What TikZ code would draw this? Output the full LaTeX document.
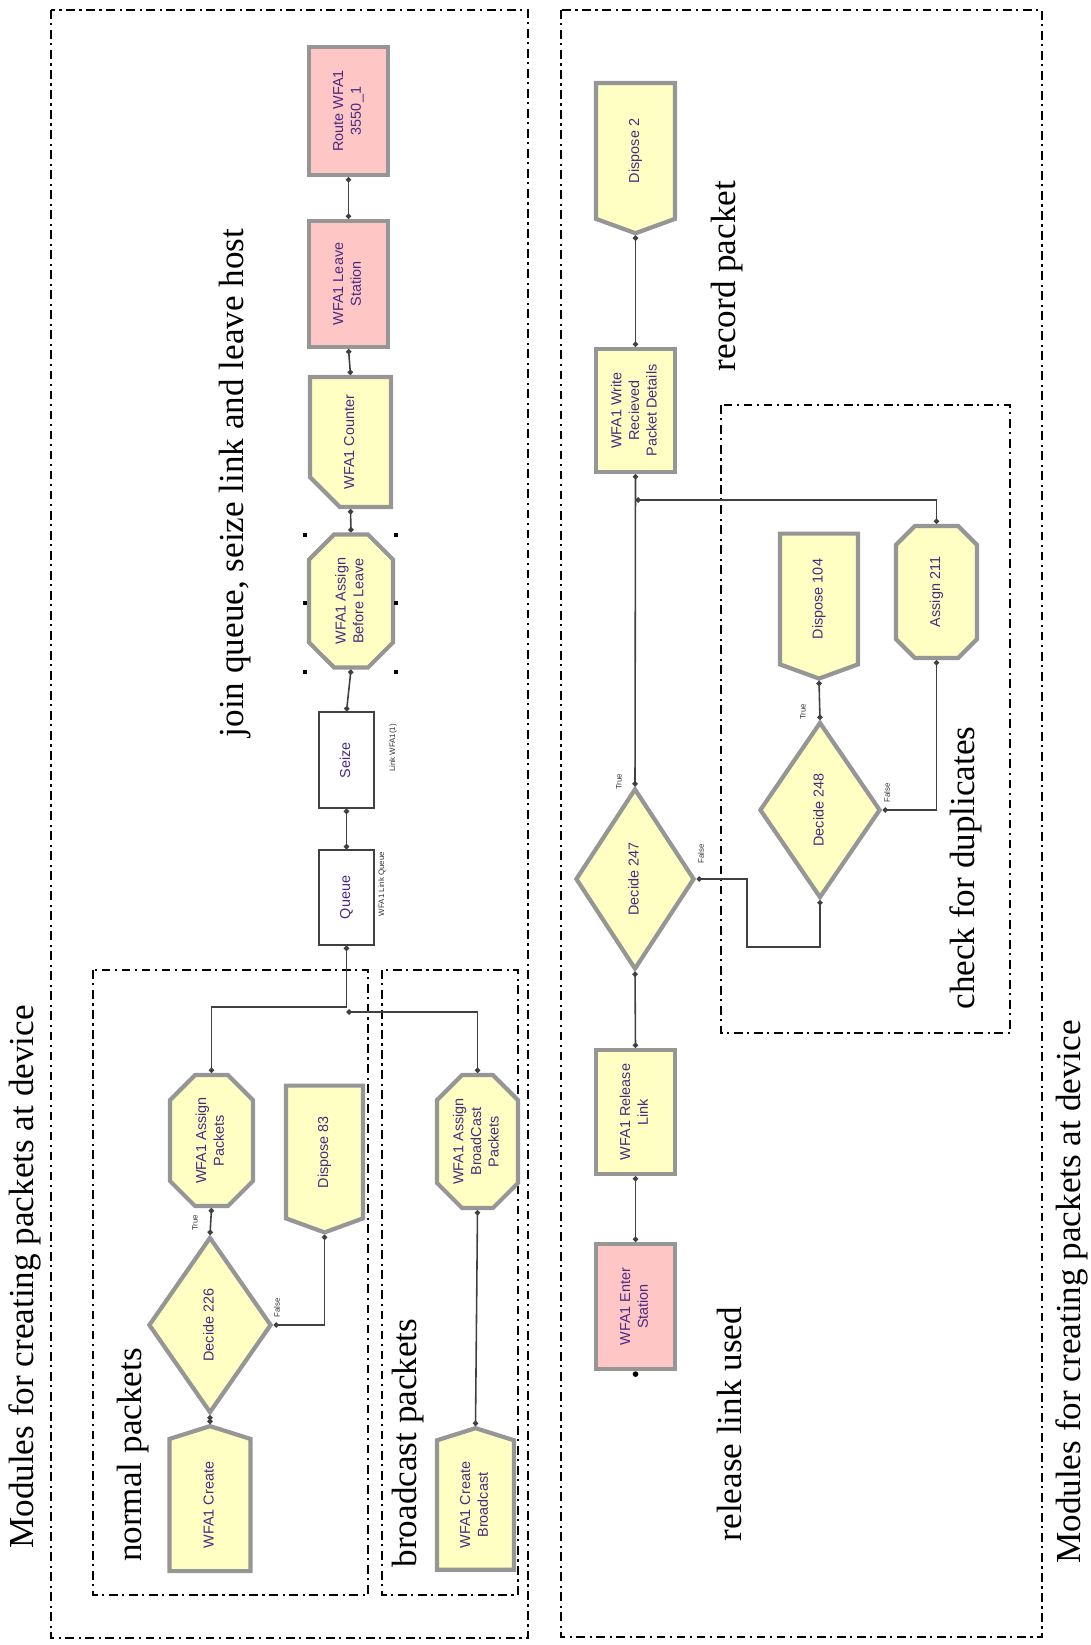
\documentclass[tikz,border=0pt]{standalone}
\usepackage{xcolor}
\usepackage{tikz}
\usepackage{fontspec}
\setmainfont{Liberation Serif}
\newfontfamily\arenafont{Liberation Sans}
\definecolor{arenayellow}{RGB}{255,255,196}
\definecolor{arenapink}{RGB}{255,198,198}
\definecolor{arenatext}{RGB}{72,42,128}
\definecolor{arenarim}{RGB}{150,150,150}
\usetikzlibrary{shapes.geometric,shapes.symbols,shapes.misc,arrows.meta}
\newcommand{\modtext}[1]{\rotatebox{90}{\begin{tabular}{@{}c@{}}#1\end{tabular}}}

\begin{document}
\begin{tikzpicture}[
    x=0.02cm, y=-0.02cm,
    module/.style={draw=arenarim, line width=2.4pt, fill=arenayellow, text=arenatext, inner sep=0pt, align=center, font=\arenafont\fontsize{8.2}{10}\selectfont},
    pinkmod/.style={module, fill=arenapink},
    assignmod/.style={module, chamfered rectangle, chamfered rectangle xsep=0.2cm, chamfered rectangle ysep=0.3cm},
    createmod/.style={module, signal, signal to=north, signal from=nowhere, signal pointer angle=145},
    disposemod/.style={module, signal, signal to=south, signal from=nowhere, signal pointer angle=140},
    recordmod/.style={module, chamfered rectangle, chamfered rectangle corners=south west, chamfered rectangle xsep=0.42cm, chamfered rectangle ysep=0.46cm},
    decidemod/.style={module, diamond},
    blockmod/.style={draw=black!75, line width=0.8pt, fill=white, text=arenatext, inner sep=0pt, font=\arenafont\fontsize{8.2}{10}\selectfont},
    flow/.style={draw=black!75, line width=0.9pt, {Circle[length=3pt]}-{Circle[length=3pt]}},
    group/.style={draw=black, line width=1.3pt, dash pattern=on 5pt off 2.6pt on 1.2pt off 2.6pt},
    note/.style={rotate=90, font=\fontsize{20}{24}\selectfont, inner sep=0pt},
    tag/.style={rotate=90, font=\arenafont\fontsize{4.5}{5}\selectfont, text=black!80, inner sep=0pt}
]
\useasboundingbox (0,0) rectangle (1091,1645);

% Group frames
\draw[group] (51,10) rectangle (528,1638);
\draw[group] (561,10) rectangle (1042,1637);
\draw[group] (93,970) rectangle (368,1595);
\draw[group] (382,970) rectangle (518,1595);
\draw[group] (721,405) rectangle (1010,1033);

% Group labels
\node[note] (titleleft) at (25,1277) {Modules for creating packets at device};
\node[note] (titleright) at (1072,1292) {Modules for creating packets at device};
\node[note] (lbljoin) at (235,483) {join queue, seize link and leave host};
\node[note] (lblnormal) at (133,1455) {normal packets};
\node[note] (lblbcast) at (408,1443) {broadcast packets};
\node[note] (lblrecord) at (727,276) {record packet};
\node[note] (lbldup) at (966,868) {check for duplicates};
\node[note] (lblrelease) at (729,1424) {release link used};

% Normal packets
\node[createmod, minimum width=1.62cm, minimum height=2.70cm] (create) at (210,1505) {\modtext{WFA1 Create}};
\node[decidemod, minimum width=2.46cm, minimum height=3.52cm] (d226) at (210,1325) {\modtext{Decide 226}};
\node[assignmod, minimum width=1.66cm, minimum height=2.62cm] (assignpk) at (211.5,1140.5) {\modtext{WFA1 Assign\\Packets}};
\node[disposemod, minimum width=1.54cm, minimum height=2.72cm] (dispose83) at (324.5,1152) {\modtext{Dispose 83}};

% Broadcast packets
\node[createmod, minimum width=1.54cm, minimum height=2.70cm] (createbc) at (475.5,1505) {\modtext{WFA1 Create\\Broadcast}};
\node[assignmod, minimum width=1.62cm, minimum height=2.66cm] (assignbc) at (477.5,1141.5) {\modtext{WFA1 Assign\\BroadCast\\Packets}};

% Join queue, seize link and leave host
\node[blockmod, minimum width=1.10cm, minimum height=1.90cm] (queue) at (346.5,897.5) {\modtext{Queue}};
\node[blockmod, minimum width=1.10cm, minimum height=1.92cm] (seize) at (346.5,760) {\modtext{Seize}};
\node[assignmod, minimum width=1.68cm, minimum height=2.66cm] (abl) at (351,601) {\modtext{WFA1 Assign\\Before Leave}};
\node[recordmod, minimum width=1.62cm, minimum height=2.60cm] (counter) at (350.5,442) {\modtext{WFA1 Counter}};
\node[pinkmod, minimum width=1.58cm, minimum height=2.52cm] (leave) at (348.5,284) {\modtext{WFA1 Leave\\Station}};
\node[pinkmod, minimum width=1.58cm, minimum height=2.56cm] (route) at (348.5,111) {\modtext{Route WFA1\\3550\_1}};
\node[tag] (queuetag) at (382,884) {WFA1 Link Queue};
\node[tag] (seizetag) at (393,748) {Link WFA1(1)};

% selection handles
\foreach \hx in {305,396}
  \foreach \hy in {535,603,672}
    \fill (\hx,\hy) ++(-2.2,-2.2) rectangle ++(4.4,4.4);

% Release link used
\node[pinkmod, minimum width=1.58cm, minimum height=2.50cm] (enter) at (635.5,1306.5) {\modtext{WFA1 Enter\\Station}};
\node[module, minimum width=1.58cm, minimum height=2.48cm] (release) at (635.5,1112) {\modtext{WFA1 Release\\Link}};
\node[decidemod, minimum width=2.38cm, minimum height=3.62cm] (d247) at (635,879) {\modtext{Decide 247}};

% Check for duplicates
\node[decidemod, minimum width=2.42cm, minimum height=3.52cm] (d248) at (820,810) {\modtext{Decide 248}};
\node[disposemod, minimum width=1.56cm, minimum height=2.68cm] (dispose104) at (819,599) {\modtext{Dispose 104}};
\node[assignmod, minimum width=1.62cm, minimum height=2.64cm] (assign211) at (936.5,592) {\modtext{Assign 211}};

% Record packet
\node[module, minimum width=1.58cm, minimum height=2.46cm] (write) at (635.5,410.5) {\modtext{WFA1 Write\\Recieved\\Packet Details}};
\node[disposemod, minimum width=1.58cm, minimum height=2.78cm] (dispose2) at (635.5,151) {\modtext{Dispose 2}};

% Branch labels
\node[tag] (t226) at (195,1223) {True};
\node[tag] (f226) at (277,1308) {False};
\node[tag] (t247) at (619,782) {True};
\node[tag] (f247) at (701,854) {False};
\node[tag] (t248) at (803,712) {True};
\node[tag] (f248) at (887,793) {False};

% Connectors
\coordinate (merge) at (346.5,1007);
\coordinate (mergebc) at (346.5,1012);
\coordinate (bend) at (747,947);
\coordinate (wmerge) at (635.5,500);
\draw[flow] (create.north) -- (d226.south);
\draw[flow] (d226.north) -- (assignpk.south);
\draw[flow] (d226.east) -| (dispose83.south);
\draw[flow] (createbc.north) -- (assignbc.south);
\draw[flow] (assignpk.north) |- (merge) -- (queue.south);
\draw[flow] (assignbc.north) |- (mergebc);
\draw[flow] (queue.north) -- (seize.south);
\draw[flow] (seize.north) -- (abl.south);
\draw[flow] (abl.north) -- (counter.south);
\draw[flow] (counter.north) -- (leave.south);
\draw[flow] (leave.north) -- (route.south);
\draw[flow] (enter.north) -- (release.south);
\draw[flow] (release.north) -- (d247.south);
\draw[flow] (d247.north) -- (write.south);
\draw[flow] (d247.east) -| (bend) -| (d248.south);
\draw[flow] (d248.north) -- (dispose104.south);
\draw[flow] (d248.east) -| (assign211.south);
\draw[flow] (assign211.north) |- (wmerge);
\draw[flow] (write.north) -- (dispose2.south);
\fill[black] (enter.south) ++(0,3) circle (1.6pt);

\end{tikzpicture}
\end{document}
